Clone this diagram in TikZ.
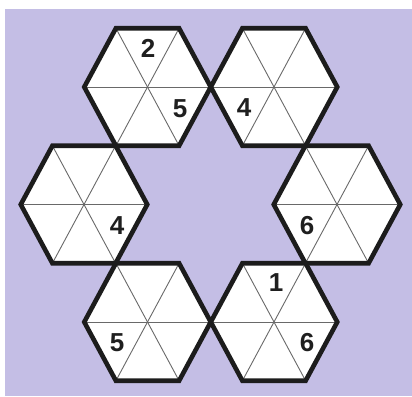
\documentclass[tikz,border=0pt]{standalone}
\usepackage{fontspec}
\setmainfont{Liberation Sans}
\definecolor{bglavender}{RGB}{196,190,229}
\definecolor{hexline}{RGB}{28,28,28}
\definecolor{spokegray}{RGB}{105,105,105}
\tikzset{
  hexborder/.style={draw=hexline, line width=4.6pt, line join=miter},
  spoke/.style={draw=spokegray, line width=0.9pt},
  digit/.style={font=\fontsize{26}{26}\selectfont\bfseries, text=black!88, inner sep=0pt}
}
\begin{document}
\begin{tikzpicture}[x=1pt,y=-1pt]
\useasboundingbox (0,0) rectangle (412,396);
% Background panel
\fill[bglavender] (5,9) rectangle (412,396);
% Ring of six hexagons (centre x / centre y)
\foreach \cx/\cy in {147.5/87, 274/87, 84/204.5, 337/204.5, 147.5/322, 274/322} {
  \begin{scope}[shift={(\cx,\cy)}]
    \fill[white] (-63.25,0) -- (-31.6,-58.75) -- (31.6,-58.75) -- (63.25,0)
      -- (31.6,58.75) -- (-31.6,58.75) -- cycle;
    % spokes through the centre
    \draw[spoke] (-63.25,0) -- (63.25,0);
    \draw[spoke] (-31.6,-58.75) -- (31.6,58.75);
    \draw[spoke] (31.6,-58.75) -- (-31.6,58.75);
    \draw[hexborder] (-63.25,0) -- (-31.6,-58.75) -- (31.6,-58.75) -- (63.25,0)
      -- (31.6,58.75) -- (-31.6,58.75) -- cycle;
  \end{scope}
}
% Given digits
\node[digit] (topleftA) at (148,48) {2};
\node[digit] (topleftB) at (180,109) {5};
\node[digit] (toprightA) at (244,108) {4};
\node[digit] (midleftA) at (117,226) {4};
\node[digit] (midrightA) at (307,226) {6};
\node[digit] (botleftA) at (117,343) {5};
\node[digit] (botrightA) at (276,283) {1};
\node[digit] (botrightB) at (307,343) {6};
\end{tikzpicture}
\end{document}
